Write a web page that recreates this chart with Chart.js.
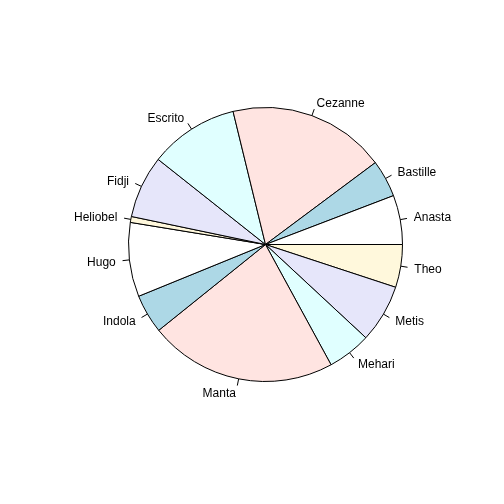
<!DOCTYPE html>
<html>
<head>
    <title>Pie</title>
    <script src="https://cdn.jsdelivr.net/npm/chart.js"></script>
    <style>
        html, body { margin: 0; padding: 0; background: #ffffff; }
        #pieChart { display: block; }
    </style>
</head>
<body>
    <canvas id="pieChart" width="504" height="504"></canvas>
    <script>
        // slices in R order (counter-clockwise from 3 o'clock)
        const categories = ['Anasta', 'Bastille', 'Cezanne', 'Escrito', 'Fidji', 'Heliobel',
                            'Hugo', 'Indola', 'Manta', 'Mehari', 'Metis', 'Theo'];
        const values = [20.9, 15.8, 67.0, 37.9, 26.6, 2.5, 31.5, 16.6, 79.8, 18.5, 24.7, 18.2];
        const palette = ['#FFFFFF', '#ADD8E6', '#FFE4E1', '#E0FFFF', '#E6E6FA', '#FFF8DC'];

        // Chart.js draws clockwise, so reverse to get R's counter-clockwise layout
        const labelsRev = categories.slice().reverse();
        const valuesRev = values.slice().reverse();
        const colorsRev = categories.map((c, i) => palette[i % palette.length]).reverse();

        // labels outside the pie with short tick marks, like base R
        const outsideLabels = {
            id: 'outsideLabels',
            afterDraw(chart) {
                const ctx = chart.ctx;
                const meta = chart.getDatasetMeta(0);
                ctx.save();
                ctx.strokeStyle = '#000000';
                ctx.lineWidth = 1;
                ctx.fillStyle = '#000000';
                ctx.font = '12px "Liberation Sans", Arial, sans-serif';
                ctx.textBaseline = 'middle';
                meta.data.forEach((arc, i) => {
                    const p = arc.getProps(['x', 'y', 'startAngle', 'endAngle', 'outerRadius'], true);
                    const mid = (p.startAngle + p.endAngle) / 2;
                    const c = Math.cos(mid), s = Math.sin(mid);
                    const r = p.outerRadius;
                    ctx.beginPath();
                    ctx.moveTo(p.x + c * r, p.y + s * r);
                    ctx.lineTo(p.x + c * r * 1.05, p.y + s * r * 1.05);
                    ctx.stroke();
                    ctx.textAlign = c >= 0 ? 'left' : 'right';
                    ctx.fillText(chart.data.labels[i], p.x + c * r * 1.1, p.y + s * r * 1.1 + 1);
                });
                ctx.restore();
            }
        };

        new Chart(document.getElementById('pieChart'), {
            type: 'pie',
            data: {
                labels: labelsRev,
                datasets: [{
                    data: valuesRev,
                    backgroundColor: colorsRev,
                    borderColor: '#000000',
                    borderWidth: 1
                }]
            },
            options: {
                responsive: false,
                animation: false,
                rotation: 90,
                layout: { padding: { left: 128, right: 101, top: 107, bottom: 122 } },
                plugins: {
                    legend: { display: false },
                    tooltip: { enabled: false }
                }
            },
            plugins: [outsideLabels]
        });
    </script>
</body>
</html>
